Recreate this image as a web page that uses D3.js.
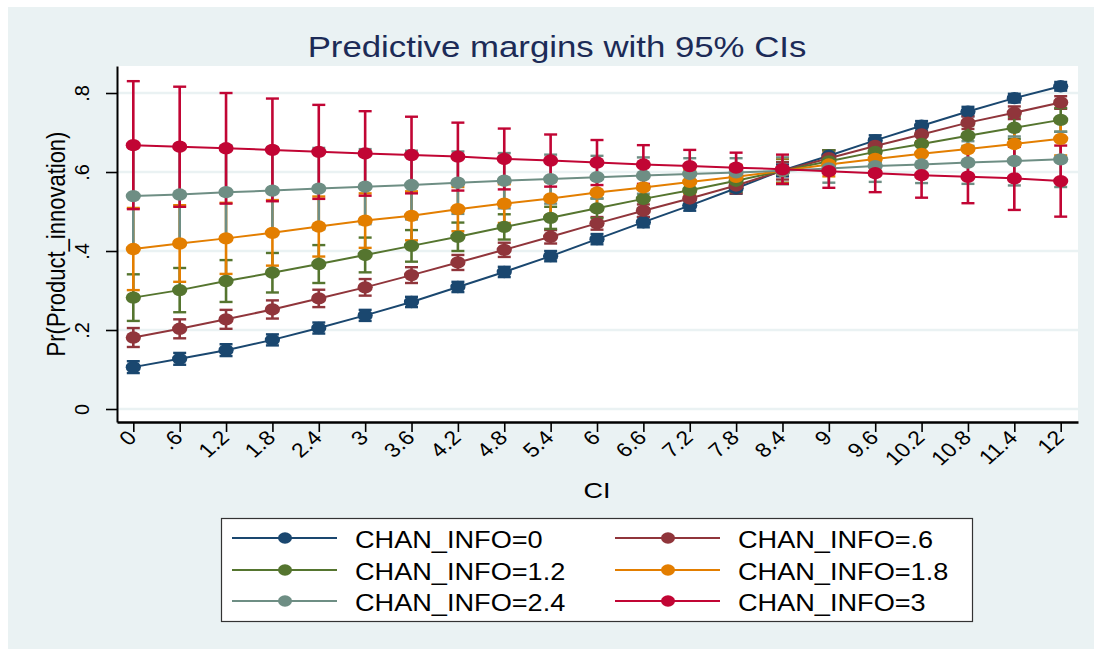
<!DOCTYPE html>
<html>
<head>
<meta charset="utf-8">
<script src="https://d3js.org/d3.v7.min.js"></script>
<style>
  body { margin: 0; background: #fff; }
  text { font-family: "Liberation Sans", Arial, sans-serif; }
</style>
</head>
<body>
<script>
// CI values on the x axis and their labels
var ciVals = [0, 0.6, 1.2, 1.8, 2.4, 3, 3.6, 4.2, 4.8, 5.4, 6, 6.6, 7.2, 7.8, 8.4, 9, 9.6, 10.2, 10.8, 11.4, 12];
var ciLabels = ["0", ".6", "1.2", "1.8", "2.4", "3", "3.6", "4.2", "4.8", "5.4", "6", "6.6", "7.2", "7.8", "8.4", "9", "9.6", "10.2", "10.8", "11.4", "12"];
var yTicks = [0, 0.2, 0.4, 0.6, 0.8];
var yLabels = ["0", ".2", ".4", ".6", ".8"];

var seriesNames = ["CHAN_INFO=0", "CHAN_INFO=.6", "CHAN_INFO=1.2", "CHAN_INFO=1.8", "CHAN_INFO=2.4", "CHAN_INFO=3"];
var colors = ["#1a476f", "#90353b", "#55752f", "#e37e00", "#6e8e84", "#c10534"];

// predicted margins per CHAN_INFO level
var pr0  = [0.106, 0.127, 0.149, 0.175, 0.205, 0.237, 0.271, 0.309, 0.347, 0.387, 0.430, 0.473, 0.515, 0.559, 0.604, 0.641, 0.680, 0.717, 0.753, 0.787, 0.817];
var pr06 = [0.181, 0.203, 0.227, 0.252, 0.280, 0.308, 0.339, 0.371, 0.403, 0.436, 0.470, 0.502, 0.533, 0.566, 0.603, 0.635, 0.666, 0.695, 0.725, 0.750, 0.776];
var pr12 = [0.282, 0.301, 0.324, 0.345, 0.367, 0.390, 0.413, 0.436, 0.461, 0.484, 0.508, 0.532, 0.554, 0.578, 0.603, 0.627, 0.651, 0.671, 0.692, 0.712, 0.732];
var pr18 = [0.405, 0.419, 0.432, 0.446, 0.462, 0.477, 0.489, 0.506, 0.520, 0.533, 0.548, 0.561, 0.575, 0.588, 0.603, 0.619, 0.633, 0.646, 0.658, 0.671, 0.684];
var pr24 = [0.539, 0.543, 0.549, 0.553, 0.558, 0.563, 0.567, 0.573, 0.578, 0.582, 0.587, 0.591, 0.595, 0.599, 0.603, 0.609, 0.615, 0.619, 0.624, 0.628, 0.632];
var pr3  = [0.668, 0.664, 0.660, 0.656, 0.651, 0.647, 0.643, 0.639, 0.633, 0.629, 0.624, 0.619, 0.615, 0.611, 0.607, 0.602, 0.597, 0.592, 0.588, 0.584, 0.577];

// half widths of the 95% CIs
var hw0  = [0.015, 0.015, 0.015, 0.014, 0.014, 0.014, 0.013, 0.013, 0.013, 0.013, 0.013, 0.013, 0.013, 0.014, 0.015, 0.014, 0.013, 0.012, 0.012, 0.011, 0.011];
var hw06 = [0.024, 0.024, 0.024, 0.023, 0.022, 0.021, 0.020, 0.019, 0.018, 0.017, 0.016, 0.016, 0.017, 0.020, 0.022, 0.020, 0.018, 0.017, 0.016, 0.016, 0.016];
var hw12 = [0.059, 0.056, 0.053, 0.050, 0.048, 0.044, 0.040, 0.036, 0.032, 0.028, 0.025, 0.024, 0.025, 0.028, 0.030, 0.028, 0.026, 0.025, 0.026, 0.028, 0.030];
var hw18 = [0.104, 0.097, 0.090, 0.083, 0.076, 0.069, 0.062, 0.056, 0.049, 0.043, 0.037, 0.032, 0.030, 0.030, 0.032, 0.030, 0.030, 0.032, 0.035, 0.038, 0.042];
var hw24 = [0.130, 0.125, 0.118, 0.110, 0.103, 0.095, 0.087, 0.079, 0.070, 0.062, 0.054, 0.046, 0.040, 0.036, 0.034, 0.036, 0.040, 0.047, 0.054, 0.062, 0.070];
var hw3  = [0.162, 0.152, 0.140, 0.130, 0.119, 0.107, 0.097, 0.086, 0.077, 0.066, 0.057, 0.049, 0.041, 0.038, 0.037, 0.042, 0.048, 0.057, 0.067, 0.080, 0.090];

var means = [pr0, pr06, pr12, pr18, pr24, pr3];
var halfW = [hw0, hw06, hw12, hw18, hw24, hw3];

var W = 1094, H = 649;
var plot = {left: 117, right: 1078, top: 66, bottom: 422};

var svg = d3.select("body").append("svg")
  .attr("width", W)
  .attr("height", H);

// graph region
svg.append("rect")
  .attr("x", 8).attr("y", 7)
  .attr("width", W - 8).attr("height", H - 7)
  .attr("fill", "#eaf2f3");

// plot region
svg.append("rect")
  .attr("x", plot.left).attr("y", plot.top)
  .attr("width", plot.right - plot.left).attr("height", plot.bottom - plot.top)
  .attr("fill", "#fff");

var x = d3.scaleLinear().domain([-0.211, 12.224]).range([plot.left, plot.right]);
var y = d3.scaleLinear().domain([-0.0329, 0.8684]).range([plot.bottom, plot.top]);

// grid lines
svg.append("g")
  .selectAll("line")
  .data(yTicks)
  .enter().append("line")
  .attr("x1", plot.left + 1).attr("x2", plot.right)
  .attr("y1", d => y(d)).attr("y2", d => y(d))
  .attr("stroke", "#eaf2f3")
  .attr("stroke-width", 2.5);

// CI bars with caps, all series first
means.forEach(function (m, s) {
  var g = svg.append("g");
  var rows = ciVals.map((c, i) => ({c: c, lo: m[i] - halfW[s][i], hi: m[i] + halfW[s][i]}));
  g.selectAll(".bar").data(rows).enter().append("line")
    .attr("x1", d => x(d.c)).attr("x2", d => x(d.c))
    .attr("y1", d => y(d.lo)).attr("y2", d => y(d.hi))
    .attr("stroke", colors[s]).attr("stroke-width", 2.6);
  ["lo", "hi"].forEach(function (k) {
    g.selectAll(".cap-" + k).data(rows).enter().append("line")
      .attr("x1", d => x(d.c) - 6.5).attr("x2", d => x(d.c) + 6.5)
      .attr("y1", d => y(d[k])).attr("y2", d => y(d[k]))
      .attr("stroke", colors[s]).attr("stroke-width", 2.4);
  });
});

// lines and markers
var line = d3.line().x((d, i) => x(ciVals[i])).y(d => y(d));
means.forEach(function (m, s) {
  svg.append("path")
    .datum(m)
    .attr("d", line)
    .attr("fill", "none")
    .attr("stroke", colors[s])
    .attr("stroke-width", 2);
  svg.append("g").selectAll("ellipse")
    .data(m).enter().append("ellipse")
    .attr("cx", (d, i) => x(ciVals[i]))
    .attr("cy", d => y(d))
    .attr("rx", 7.6).attr("ry", 6.2)
    .attr("fill", colors[s]);
});

// y axis
var yAxis = svg.append("g")
  .attr("transform", `translate(${plot.left},0)`)
  .call(d3.axisLeft(y).tickValues(yTicks).tickFormat((d, i) => yLabels[i]).tickSize(11).tickSizeOuter(0));
yAxis.select(".domain").attr("stroke", "#000").attr("stroke-width", 2);
yAxis.selectAll(".tick line").attr("stroke", "#000").attr("stroke-width", 1.6);
yAxis.selectAll(".tick text")
  .attr("x", null).attr("dy", null)
  .attr("fill", "#000")
  .attr("font-size", 20)
  .attr("text-anchor", "middle")
  .attr("transform", "translate(-28,0) scale(1.05,1) rotate(-90)");

// x axis
var xAxis = svg.append("g")
  .attr("transform", `translate(0,${plot.bottom})`)
  .call(d3.axisBottom(x).tickValues(ciVals).tickFormat((d, i) => ciLabels[i]).tickSize(10).tickSizeOuter(0));
xAxis.select(".domain").attr("stroke", "#000").attr("stroke-width", 2.4);
xAxis.selectAll(".tick line").attr("stroke", "#000").attr("stroke-width", 1.6);
xAxis.selectAll(".tick text")
  .attr("y", null).attr("dy", null)
  .attr("fill", "#000")
  .attr("font-size", 20)
  .attr("text-anchor", "end")
  .attr("transform", "translate(4,17) scale(1.15,1) rotate(-45)");

// titles
svg.append("text")
  .attr("transform", "translate(557,57) scale(1.2,1)")
  .attr("text-anchor", "middle")
  .attr("font-size", 29)
  .attr("fill", "#1c2b57")
  .text("Predictive margins with 95% CIs");

svg.append("text")
  .attr("transform", "translate(597,498) scale(1.2,1)")
  .attr("text-anchor", "middle")
  .attr("font-size", 22.5)
  .attr("fill", "#000")
  .text("CI");

svg.append("text")
  .attr("transform", `translate(65,${(plot.top + plot.bottom) / 2}) scale(1.2,1) rotate(-90)`)
  .attr("text-anchor", "middle")
  .attr("font-size", 22)
  .attr("fill", "#000")
  .text("Pr(Product_innovation)");

// legend
var legend = svg.append("g");
legend.append("rect")
  .attr("x", 221.5).attr("y", 518.5)
  .attr("width", 751).attr("height", 103)
  .attr("fill", "#fff")
  .attr("stroke", "#333")
  .attr("stroke-width", 1.2);

var colX = [232, 615], rowY = [538, 570, 601];
seriesNames.forEach(function (name, s) {
  var lx = colX[s % 2], ly = rowY[Math.floor(s / 2)];
  var it = legend.append("g").attr("transform", `translate(${lx},${ly})`);
  it.append("line").attr("x1", 0).attr("x2", 105).attr("y1", 0).attr("y2", 0)
    .attr("stroke", colors[s]).attr("stroke-width", 2);
  it.append("ellipse").attr("cx", 53).attr("cy", 0).attr("rx", 7).attr("ry", 5.8)
    .attr("fill", colors[s]);
  it.append("text")
    .attr("transform", "translate(123,9.5) scale(1.18,1)")
    .attr("font-size", 23)
    .attr("fill", "#000")
    .text(name);
});
</script>
</body>
</html>
